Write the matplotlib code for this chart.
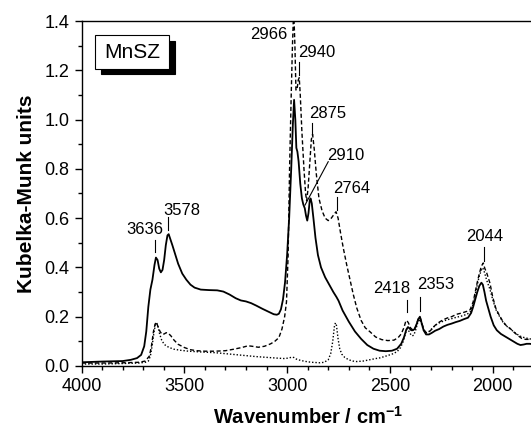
import matplotlib
matplotlib.use("Agg")
import matplotlib.pyplot as plt
from matplotlib.patches import Rectangle
from matplotlib.ticker import MultipleLocator, FormatStrFormatter

plt.rcParams['font.family'] = ['Liberation Sans', 'DejaVu Sans']
plt.rcParams['mathtext.fontset'] = 'custom'
plt.rcParams['mathtext.rm'] = 'Liberation Sans'
plt.rcParams['mathtext.bf'] = 'Liberation Sans:bold'

# solid spectrum
w_solid = [4000, 3900, 3800, 3760, 3730, 3710, 3695, 3685, 3675, 3665, 3655, 3645, 3638, 3630,
           3622, 3614, 3606, 3598, 3590, 3582, 3576, 3568, 3558, 3545, 3530, 3510, 3490, 3470,
           3450, 3420, 3380, 3340, 3310, 3280, 3250, 3225, 3200, 3175, 3150, 3120, 3090, 3065,
           3050, 3040, 3030, 3020, 3010, 3000, 2990, 2980, 2972, 2966, 2960, 2955, 2950, 2944,
           2936, 2928, 2921, 2914, 2908, 2902, 2896, 2890, 2886, 2880, 2872, 2862, 2850, 2835,
           2815, 2795, 2775, 2760, 2750, 2730, 2700, 2670, 2640, 2610, 2580, 2550, 2520, 2490,
           2465, 2445, 2432, 2420, 2412, 2404, 2396, 2388, 2380, 2372, 2362, 2354, 2346, 2336,
           2324, 2310, 2295, 2280, 2260, 2240, 2220, 2200, 2180, 2160, 2140, 2120, 2105, 2095,
           2085, 2075, 2065, 2055, 2048, 2040, 2032, 2022, 2010, 1995, 1980, 1960, 1940, 1920,
           1900, 1880, 1865, 1850, 1835, 1820, 1800]
km_solid = [0.015, 0.018, 0.02, 0.025, 0.032, 0.045, 0.08, 0.14, 0.24, 0.31, 0.35, 0.41, 0.44, 0.43,
            0.395, 0.38, 0.39, 0.43, 0.49, 0.53, 0.535, 0.515, 0.49, 0.455, 0.415, 0.375, 0.35, 0.33,
            0.318, 0.31, 0.308, 0.307, 0.302, 0.29, 0.275, 0.266, 0.262, 0.255, 0.245, 0.232, 0.22, 0.21,
            0.208, 0.212, 0.23, 0.27, 0.34, 0.45, 0.6, 0.8, 0.98, 1.08, 1.0, 0.885, 0.87, 0.83,
            0.74, 0.68, 0.655, 0.64, 0.61, 0.59, 0.62, 0.67, 0.68, 0.66, 0.6, 0.52, 0.45, 0.4,
            0.36, 0.33, 0.3, 0.28, 0.265, 0.225, 0.18, 0.14, 0.11, 0.085, 0.07, 0.062, 0.06, 0.062,
            0.07, 0.09, 0.115, 0.148, 0.158, 0.152, 0.145, 0.145, 0.15, 0.165, 0.19, 0.2, 0.175, 0.145,
            0.128, 0.128, 0.135, 0.143, 0.15, 0.16, 0.167, 0.172, 0.178, 0.183, 0.19, 0.196, 0.215, 0.24,
            0.27, 0.3, 0.325, 0.338, 0.33, 0.3, 0.265, 0.235, 0.2, 0.165, 0.145, 0.13, 0.12, 0.11,
            0.1, 0.09, 0.085, 0.087, 0.09, 0.09, 0.088]

# dashed spectrum
w_dash = [4000, 3900, 3800, 3720, 3690, 3670, 3660, 3650, 3642, 3636, 3628, 3618, 3608, 3598,
          3588, 3578, 3565, 3550, 3530, 3500, 3470, 3440, 3400, 3350, 3300, 3260, 3220, 3190,
          3170, 3140, 3110, 3080, 3060, 3040, 3025, 3012, 3003, 2995, 2988, 2980, 2974, 2968,
          2962, 2957, 2952, 2946, 2941, 2936, 2928, 2918, 2910, 2905, 2898, 2890, 2882, 2876,
          2868, 2858, 2845, 2830, 2815, 2800, 2785, 2772, 2762, 2752, 2740, 2727, 2710, 2694,
          2678, 2661, 2640, 2620, 2597, 2570, 2540, 2510, 2480, 2460, 2445, 2432, 2424, 2418,
          2410, 2400, 2390, 2380, 2372, 2362, 2354, 2346, 2336, 2324, 2310, 2295, 2280, 2260,
          2240, 2220, 2200, 2175, 2150, 2125, 2110, 2095, 2085, 2075, 2065, 2055, 2046, 2038,
          2030, 2013, 2000, 1985, 1973, 1950, 1930, 1916, 1900, 1880, 1859, 1840, 1820, 1800]
km_dash = [0.012, 0.012, 0.013, 0.015, 0.02, 0.04, 0.08, 0.14, 0.17, 0.178, 0.16, 0.14, 0.128, 0.13,
           0.135, 0.133, 0.122, 0.105, 0.088, 0.075, 0.066, 0.062, 0.06, 0.06, 0.062, 0.068, 0.075, 0.082,
           0.08, 0.076, 0.08, 0.09, 0.1, 0.115, 0.15, 0.2, 0.26, 0.45, 0.8, 1.1, 1.3, 1.45,
           1.3, 1.12, 1.12, 1.16, 1.17, 1.1, 0.95, 0.8, 0.7, 0.67, 0.72, 0.82, 0.92, 0.94,
           0.88, 0.78, 0.68, 0.63, 0.6, 0.59, 0.6, 0.615, 0.626, 0.6, 0.54, 0.48, 0.41, 0.35,
           0.29, 0.235, 0.185, 0.155, 0.139, 0.118, 0.107, 0.103, 0.105, 0.115, 0.13, 0.155, 0.178, 0.185,
           0.175, 0.155, 0.147, 0.15, 0.165, 0.19, 0.2, 0.178, 0.15, 0.135, 0.138, 0.15, 0.165, 0.178,
           0.188, 0.195, 0.2, 0.21, 0.215, 0.222, 0.228, 0.26, 0.3, 0.34, 0.375, 0.405, 0.418, 0.395,
           0.38, 0.335, 0.28, 0.235, 0.214, 0.18, 0.16, 0.153, 0.14, 0.125, 0.112, 0.108, 0.108, 0.105]

# dotted spectrum
w_dot = [4000, 3900, 3800, 3720, 3690, 3675, 3665, 3655, 3647, 3640, 3635, 3628, 3620, 3610,
         3598, 3585, 3570, 3550, 3520, 3480, 3440, 3400, 3350, 3300, 3250, 3200, 3150, 3100,
         3050, 3010, 2990, 2975, 2966, 2955, 2940, 2920, 2900, 2880, 2860, 2840, 2820, 2800,
         2788, 2778, 2770, 2765, 2760, 2752, 2744, 2734, 2720, 2700, 2680, 2661, 2630, 2600,
         2570, 2548, 2520, 2490, 2465, 2448, 2435, 2425, 2418, 2410, 2400, 2392, 2384, 2375,
         2365, 2355, 2346, 2336, 2324, 2310, 2295, 2280, 2260, 2240, 2220, 2200, 2175, 2150,
         2125, 2110, 2095, 2085, 2075, 2065, 2055, 2048, 2040, 2030, 2013, 2000, 1985, 1973,
         1950, 1930, 1916, 1900, 1880, 1859, 1840, 1820, 1800]
km_dot = [0.008, 0.008, 0.01, 0.012, 0.015, 0.02, 0.04, 0.09, 0.14, 0.17, 0.175, 0.16, 0.13, 0.105,
          0.088, 0.08, 0.074, 0.068, 0.064, 0.06, 0.058, 0.056, 0.054, 0.05, 0.046, 0.042, 0.038, 0.035,
          0.032, 0.03, 0.033, 0.036, 0.034, 0.028, 0.024, 0.02, 0.017, 0.015, 0.014, 0.013, 0.015, 0.025,
          0.05, 0.1, 0.16, 0.175, 0.165, 0.11, 0.07, 0.048, 0.035, 0.025, 0.02, 0.018, 0.02, 0.025,
          0.03, 0.033, 0.04, 0.048, 0.058, 0.075, 0.1, 0.13, 0.15, 0.145, 0.13, 0.122, 0.125, 0.145,
          0.175, 0.19, 0.17, 0.145, 0.135, 0.14, 0.152, 0.165, 0.175, 0.182, 0.188, 0.192, 0.198, 0.203,
          0.21, 0.218, 0.25, 0.29, 0.33, 0.365, 0.39, 0.398, 0.38, 0.35, 0.31, 0.27, 0.23, 0.21,
          0.178, 0.16, 0.152, 0.14, 0.128, 0.118, 0.114, 0.11, 0.108]

# peak labels: text, text x, text y, alignment, pointer (x0, y0, x1, y1)
peak_labels = [
    ("2966", 3000, 1.347, "right", None),
    ("2940", 2946, 1.274, "left", (2941, 1.234, 2941, 1.181)),
    ("2875", 2893, 1.023, "left", (2877, 0.986, 2877, 0.937)),
    ("2910", 2803, 0.856, "left", (2800, 0.829, 2913, 0.653)),
    ("2764", 2776, 0.721, "left", (2759, 0.686, 2759, 0.633)),
    ("3636", 3691, 0.552, "center", (3643, 0.511, 3643, 0.463)),
    ("3578", 3513, 0.633, "center", (3581, 0.605, 3581, 0.552)),
    ("2418", 2491, 0.315, "center", (2418, 0.268, 2418, 0.219)),
    ("2353", 2276, 0.329, "center", (2354, 0.280, 2354, 0.223)),
    ("2044", 2038, 0.525, "center", (2042, 0.483, 2042, 0.426)),
]

fig = plt.figure(figsize=(5.31, 4.28), dpi=100)
ax = fig.add_axes([0.1535, 0.1449, 0.8518, 0.806])

ax.plot(w_solid, km_solid, color="black", lw=1.3)
ax.plot(w_dash, km_dash, color="black", lw=1.0, linestyle=(0, (3, 1.8)))
ax.plot(w_dot, km_dot, color="black", lw=1.0, linestyle=(0, (1, 1.4)))

for text, tx, ty, ha, ptr in peak_labels:
    ax.text(tx, ty, text, ha=ha, va="center", fontsize=12)
    if ptr is not None:
        ax.plot([ptr[0], ptr[2]], [ptr[1], ptr[3]], color="black", lw=0.8)

ax.set_xlim(4000, 1800)
ax.set_ylim(0, 1.4)
ax.xaxis.set_major_locator(MultipleLocator(500))
ax.xaxis.set_minor_locator(MultipleLocator(100))
ax.yaxis.set_major_locator(MultipleLocator(0.2))
ax.yaxis.set_minor_locator(MultipleLocator(0.1))
ax.yaxis.set_major_formatter(FormatStrFormatter("%.1f"))
ax.tick_params(which="both", direction="out", top=False, right=False, labelsize=13)
ax.tick_params(which="major", length=5, width=1)
ax.tick_params(which="minor", length=3, width=1)
for s in ax.spines.values():
    s.set_linewidth(1.0)

ax.set_xlabel("Wavenumber / cm$^{\\mathbf{-1}}$", fontsize=14.5, fontweight="bold", labelpad=8)
ax.set_ylabel("Kubelka-Munk units", fontsize=15, fontweight="bold", labelpad=6)

# sample name box with shadow
ax.add_patch(Rectangle((0.0420, 0.845), 0.164, 0.098, transform=ax.transAxes,
                       facecolor="black", edgecolor="black", lw=0.8))
ax.add_patch(Rectangle((0.0298, 0.861), 0.164, 0.098, transform=ax.transAxes,
                       facecolor="white", edgecolor="black", lw=0.8))
ax.text(0.112, 0.910, "MnSZ", transform=ax.transAxes, ha="center", va="center", fontsize=15)

fig.savefig("out.png", dpi=100)
